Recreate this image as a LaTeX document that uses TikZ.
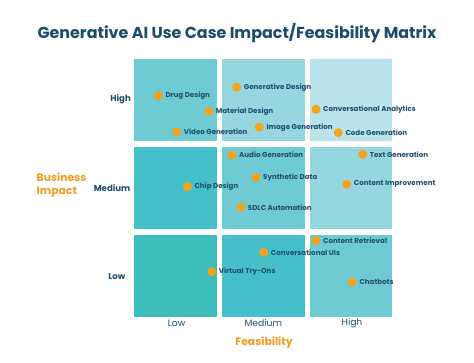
\documentclass[tikz,border=0pt]{standalone}
\usepackage{fontspec}
\setmainfont{Poppins}
\begin{document}
\begin{tikzpicture}[x=1pt,y=-1pt,
  cell/.style={draw=none,minimum width=82.5pt,minimum height=82pt,inner sep=0,anchor=north west},
  dot/.style={circle,fill=dotor,minimum size=9pt,inner sep=0},
  uc/.style={font=\bfseries\fontsize{7.1}{8}\selectfont,text=navy,inner sep=0,anchor=west},
  axl/.style={font=\fontsize{9.2}{10}\selectfont,text=navy,inner sep=0},
  rowl/.style={font=\bfseries\fontsize{8.6}{10}\selectfont,text=navy,inner sep=0,anchor=east},
  orl/.style={font=\bfseries\fontsize{10.8}{13}\selectfont,text=orangetxt,inner sep=0}]
\definecolor{dotor}{HTML}{F7A21B}
\definecolor{orangetxt}{HTML}{F39C1F}
\definecolor{navy}{HTML}{1F4E6E}
\definecolor{titlec}{HTML}{1B4C69}
\definecolor{cA}{HTML}{3CBDBB}
\definecolor{cB}{HTML}{45C0C9}
\definecolor{cC}{HTML}{6ECBD3}
\definecolor{cD}{HTML}{95D6DF}
\definecolor{cE}{HTML}{B9E4EB}
\useasboundingbox[fill=white] (0,0) rectangle (474,363);
\node[font=\bfseries\fontsize{15.9}{18}\selectfont,text=titlec] (title) at (237,33) {Generative AI Use Case Impact/Feasibility Matrix};
% cells
\node[cell,fill=cC] (c11) at (134,59.3) {};
\node[cell,fill=cD] (c12) at (222,59.3) {};
\node[cell,fill=cE] (c13) at (309.3,59.3) {};
\node[cell,fill=cB] (c21) at (134,147.3) {};
\node[cell,fill=cC] (c22) at (222,147.3) {};
\node[cell,fill=cD] (c23) at (309.3,147.3) {};
\node[cell,fill=cA] (c31) at (134,235.3) {};
\node[cell,fill=cB] (c32) at (222,235.3) {};
\node[cell,fill=cC] (c33) at (309.3,235.3) {};
% axis labels
\node[rowl] (rh) at (131,99.5) {High};
\node[rowl] (rm) at (130.5,188.5) {Medium};
\node[rowl] (rl) at (125.5,276.5) {Low};
\node[axl] (fl) at (176.7,323.3) {Low};
\node[axl] (fm) at (263.3,323.3) {Medium};
\node[axl] (fh) at (352,323.3) {High};
\node[orl] (feas) at (264,342.3) {Feasibility};
\node[orl,align=left,anchor=west] (bi) at (36.5,184.7) {Business\\Impact};
% use cases
\foreach \n/\x/\y/\t in {
  d1/158.3/95.7/Drug Design,
  d2/236.7/87.3/Generative Design,
  d3/208.7/111.3/Material Design,
  d4/176.7/131.7/Video Generation,
  d5/259.3/127.3/Image Generation,
  d6/316/109.3/Conversational Analytics,
  d7/338.3/132.7/Code Generation,
  d8/232/155/Audio Generation,
  d9/362.7/154.3/Text Generation,
  d10/256/177.3/Synthetic Data,
  d11/187.3/186.7/Chip Design,
  d12/346.7/184.3/Content Improvement,
  d13/240.7/207.3/SDLC Automation,
  d14/316/240.7/Content Retrieval,
  d15/263.7/252.3/Conversational UIs,
  d16/211.7/271.7/Virtual Try-Ons,
  d17/352.3/282/Chatbots}{
  \node[dot] (\n) at (\x,\y) {};
  \node[uc] (\n t) at ([xshift=2.3pt]\n.east) {\t};
}
\end{tikzpicture}
\end{document}
